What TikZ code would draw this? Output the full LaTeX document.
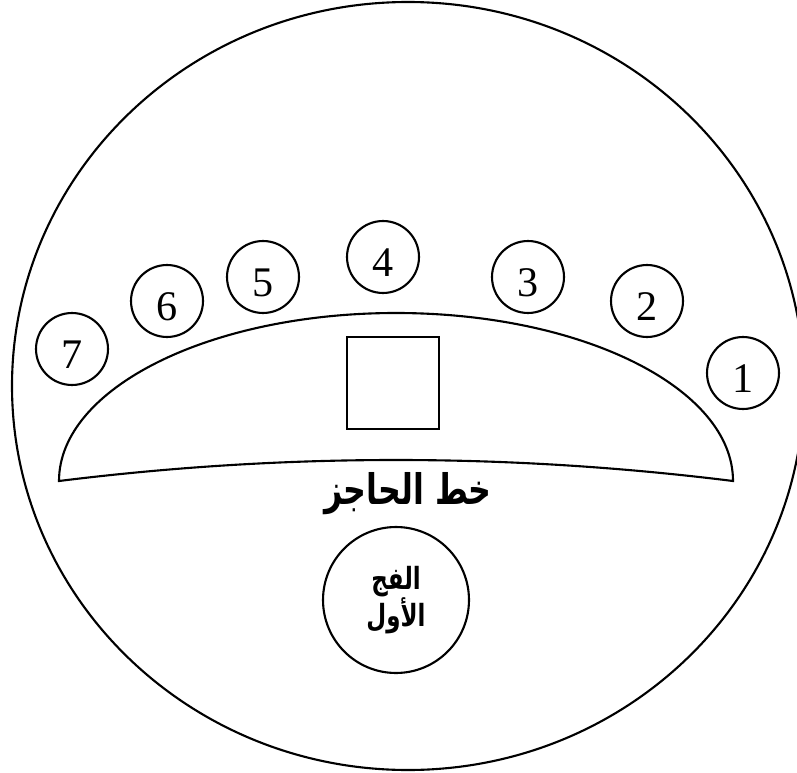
\documentclass[tikz,border=0pt]{standalone}
\usepackage{fontspec}
\setmainfont{Liberation Serif}
\newfontfamily\arabicfont[Script=Arabic]{DejaVu Sans}
\TeXXeTstate=1
\usetikzlibrary{positioning}
\tikzstyle{seat} = [circle, draw=black, line width=1.2pt,
minimum size=1.44cm, inner sep=0pt,
font=\fontsize{24}{26}\selectfont]
\tikzstyle{outline} = [draw=black, line width=1.2pt]
\tikzstyle{arabic} = [xscale=0.9, yscale=1.2, transform shape, align=center]

\begin{document}
\begin{tikzpicture}[x=0.02cm, y=-0.02cm]

		% Canvas (pixel units, y downwards)
		\useasboundingbox (0,0) rectangle (797,773);
		\clip (0,0) rectangle (797,773);

		% Outer hall
		\draw[outline] (408,386) ellipse [x radius=396, y radius=384];

		% Barrier (dome)
		\draw[outline] (59,481) arc[start angle=180, end angle=360, x radius=337, y radius=168]
			.. controls (508,453) and (284,453) .. cycle;

		% Table inside the dome
		\node[rectangle, outline, minimum size=1.84cm, inner sep=0pt] (table) at (393,383) {};

		% Seats
		\foreach \n/\x/\y in {1/743/373, 2/647/301, 3/528/277, 4/383/257, 5/263/277, 6/167/301, 7/72/349}
			\node[seat] (s\n) at (\x,\y) {\raisebox{-0.12cm}[\height][0pt]{\n}};

		% Barrier label
		\node[arabic, font=\arabicfont\bfseries\fontsize{20}{24}\selectfont] (barrier) at (408,494) {\beginR خط الحاجز\endR};

		% First group
		\node[circle, outline, minimum size=2.92cm, inner sep=0pt] (group) at (396,600) {};
		\node[arabic, font=\arabicfont\bfseries\fontsize{14.5}{17.5}\selectfont] (grouplabel) at (group)
			{\beginR الفج\endR \\ \beginR الأول\endR};

\end{tikzpicture}
\end{document}
